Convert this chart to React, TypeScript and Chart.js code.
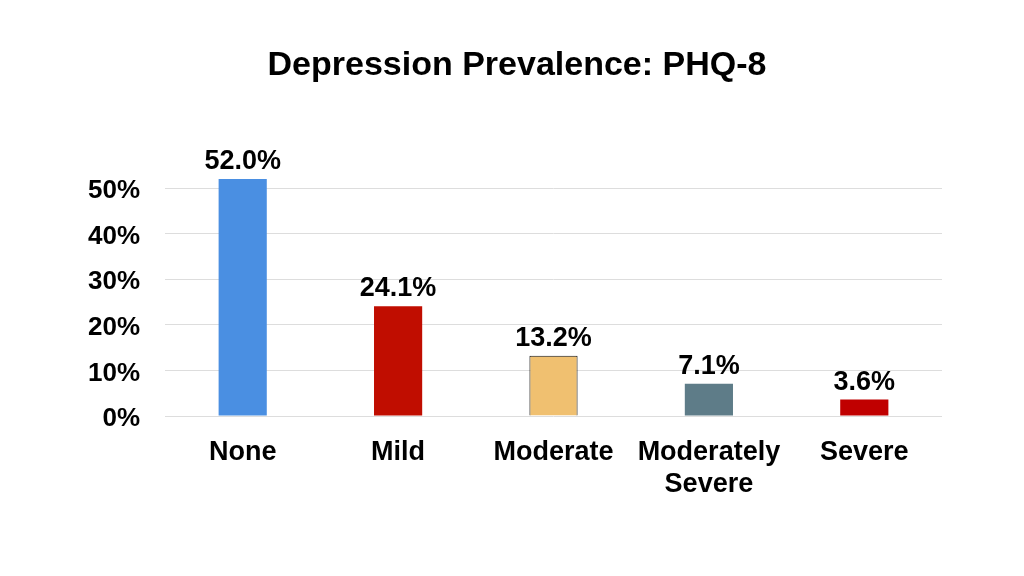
import React, { useEffect, useRef } from "react";
import { Chart, registerables } from "chart.js";

Chart.register(...registerables);

const categories: (string | string[])[] = ["None", "Mild", "Moderate", ["Moderately", "Severe"], "Severe"];
const values: number[] = [52.0, 24.1, 13.2, 7.1, 3.6];
const barColors: string[] = ["#4A8FE2", "#C00D00", "#F0C070", "#5E7C88", "#C00000"];
const borderColors: string[] = ["#4A8FE2", "#C00D00", "#111111", "#5E7C88", "#C00000"];
const borderWidths: number[] = [0, 0, 1, 0, 0];
const yTicks: number[] = [0, 10, 20, 30, 40, 50];
const title = "Depression Prevalence: PHQ-8";

const FONT = "'Liberation Sans', Arial, Helvetica, sans-serif";

const labelPlugin = {
  id: "valueLabels",
  afterDatasetsDraw(chart: any) {
    const ctx = chart.ctx;
    const meta = chart.getDatasetMeta(0);
    ctx.save();
    ctx.font = `bold 27px ${FONT}`;
    ctx.fillStyle = "#000";
    ctx.textAlign = "center";
    ctx.textBaseline = "bottom";
    meta.data.forEach((bar: any, i: number) => {
      ctx.fillText(values[i].toFixed(1) + "%", bar.x, bar.y - 4);
    });
    ctx.restore();
  },
};

const titlePlugin = {
  id: "pageTitle",
  afterDraw(chart: any) {
    const ctx = chart.ctx;
    ctx.save();
    ctx.font = `bold 34px ${FONT}`;
    ctx.fillStyle = "#000";
    ctx.textAlign = "center";
    ctx.textBaseline = "middle";
    ctx.fillText(title, 517, 66);
    ctx.restore();
  },
};

export default function App() {
  const ref = useRef<HTMLCanvasElement>(null);
  useEffect(() => {
    if (!ref.current) return;
    const chart = new Chart(ref.current, {
      type: "bar",
      data: {
        labels: categories as any,
        datasets: [
          {
            data: values,
            backgroundColor: barColors,
            borderColor: borderColors,
            borderWidth: borderWidths,
            barPercentage: 0.62,
            categoryPercentage: 0.5,
          },
        ],
      },
      options: {
        responsive: false,
        animation: false,
        layout: { padding: { left: 0, right: 82, top: 179, bottom: 0 } },
        plugins: {
          legend: { display: false },
          tooltip: { enabled: false },
          title: { display: false },
        },
        scales: {
          x: {
            grid: { display: false },
            border: { display: false },
            ticks: {
              color: "#000",
              font: { family: FONT, size: 27, weight: "bold", lineHeight: 1.19 },
              padding: 12,
              maxRotation: 0,
              autoSkip: false,
            },
            afterFit(scale: any) {
              scale.height = 160;
            },
          },
          y: {
            min: 0,
            max: 52,
            border: { display: false },
            grid: { color: "#DDDDDD", lineWidth: 1, drawTicks: false },
            afterBuildTicks(scale: any) {
              scale.ticks = yTicks.map((v) => ({ value: v }));
            },
            afterFit(scale: any) {
              scale.width = 165;
            },
            ticks: {
              color: "#000",
              font: { family: FONT, size: 26, weight: "bold" },
              padding: 25,
              labelOffset: 3,
              callback: (v: any) => v + "%",
            },
          },
        },
      },
      plugins: [labelPlugin, titlePlugin],
    });
    return () => chart.destroy();
  }, []);
  return (
    <div style={{ position: "fixed", left: 0, top: 0, width: 1024, height: 576, background: "#fff" }}>
      <canvas ref={ref} width={1024} height={576} />
    </div>
  );
}
